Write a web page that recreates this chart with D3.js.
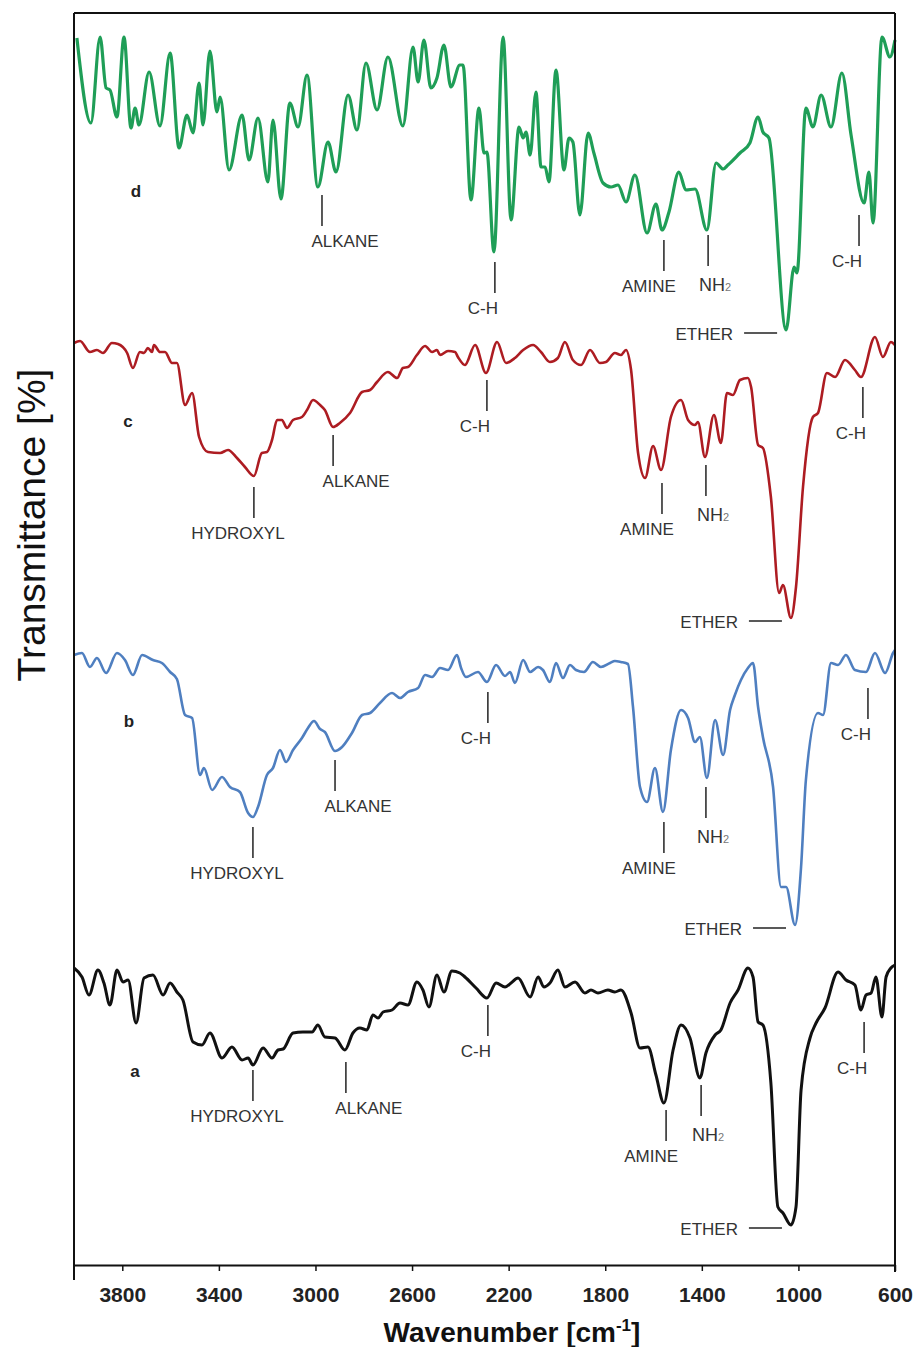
<!DOCTYPE html>
<html>
<head>
<meta charset="utf-8">
<script src="https://cdn.jsdelivr.net/npm/d3@7"></script>
<style>
  body { margin: 0; background: #fff; }
  svg { display: block; font-family: Arial, "Liberation Sans", sans-serif; }
</style>
</head>
<body>
<svg id="chart" width="918" height="1347"></svg>
<script>
// FTIR spectra, stacked (a, b, c, d)
// each point: [wavenumber cm-1, transmittance (offset, a.u.)]

const xTicks = [3800, 3400, 3000, 2600, 2200, 1800, 1400, 1000, 600];

const specD = [
  [3988,122.7],[3930,114.2],[3892,122.8],[3867,117.7],[3851,117.5],[3822,114.8],[3793,122.8],
  [3764,113.7],[3747,115.7],[3731,114.0],[3689,119.3],[3644,113.9],[3602,121.2],[3565,111.7],
  [3532,115.0],[3507,113.2],[3482,118.2],[3466,114.0],[3437,121.4],[3408,115.3],[3395,116.8],
  [3358,109.5],[3304,115.0],[3275,110.5],[3238,114.7],[3197,108.3],[3176,114.5],[3143,106.6],
  [3106,116.2],[3072,113.8],[3035,119.0],[2990,107.8],[2948,112.3],[2915,109.3],[2865,117.0],
  [2828,113.5],[2791,120.2],[2745,115.5],[2700,120.8],[2638,113.9],[2596,121.8],[2575,118.3],
  [2551,122.5],[2522,117.7],[2497,118.7],[2468,122.0],[2439,117.8],[2402,120.0],[2389,120.0],
  [2356,106.5],[2323,115.7],[2302,111.2],[2290,111.3],[2261,101.3],[2223,122.8],[2190,104.5],
  [2157,113.8],[2140,112.7],[2128,113.3],[2111,111.0],[2087,117.3],[2066,109.8],[2049,109.8],
  [2033,108.3],[2004,119.5],[1971,109.5],[1950,112.7],[1934,112.3],[1905,105.0],[1871,113.2],
  [1847,111.2],[1809,108.2],[1776,107.8],[1747,108.0],[1714,106.3],[1677,109.0],[1627,103.2],
  [1590,106.1],[1565,103.5],[1536,105.3],[1495,109.3],[1466,107.5],[1428,107.6],[1379,103.5],
  [1341,110.2],[1312,109.6],[1292,110.0],[1242,111.2],[1201,112.2],[1167,114.8],[1147,113.3],
  [1122,112.7],[1051,93.5],[1018,99.8],[1006,99.2],[969,115.7],[940,113.8],[906,117.0],
  [865,113.8],[820,119.2],[782,113.0],[728,106.2],[708,109.3],[691,104.2],[654,122.8],
  [621,120.8],[600,122.5]
];

const specC = [
  [4000,92.2],[3975,92.4],[3934,91.3],[3905,91.5],[3880,91.2],[3843,92.2],[3818,92.1],
  [3780,91.2],[3756,89.7],[3727,91.3],[3710,91.2],[3694,91.7],[3677,91.3],[3669,92.0],
  [3644,91.3],[3623,91.3],[3594,90.2],[3574,90.2],[3540,86.0],[3511,87.2],[3482,82.8],
  [3445,81.3],[3395,81.2],[3362,81.5],[3325,80.7],[3292,79.8],[3255,78.9],[3222,81.2],
  [3201,81.3],[3180,82.5],[3159,84.5],[3139,84.5],[3118,83.7],[3093,84.5],[3056,84.8],
  [3035,85.5],[3010,86.5],[2981,86.0],[2961,85.5],[2927,83.8],[2899,84.2],[2857,85.2],
  [2807,87.3],[2774,87.5],[2745,88.3],[2700,89.3],[2662,88.7],[2638,89.7],[2617,89.8],
  [2580,91.0],[2546,91.9],[2517,91.3],[2497,91.5],[2484,91.0],[2451,91.4],[2422,91.3],
  [2410,90.8],[2381,90.0],[2339,92.0],[2294,89.2],[2248,92.3],[2211,90.2],[2174,90.7],
  [2140,91.5],[2099,92.0],[2066,91.3],[2029,90.3],[1996,90.7],[1967,92.3],[1934,90.5],
  [1900,90.0],[1863,91.5],[1822,90.2],[1797,90.3],[1760,91.2],[1735,91.0],[1714,91.5],
  [1693,89.5],[1664,81.2],[1635,78.7],[1602,81.9],[1569,79.5],[1528,84.8],[1486,86.5],
  [1457,84.5],[1428,84.0],[1416,84.3],[1387,80.8],[1350,85.0],[1321,82.2],[1296,87.2],
  [1271,87.0],[1242,88.5],[1209,88.7],[1196,87.8],[1167,82.0],[1147,81.7],[1114,76.8],
  [1080,67.2],[1064,68.0],[1031,64.7],[1010,67.8],[981,77.8],[940,84.8],[919,85.2],
  [882,89.2],[848,88.8],[807,90.5],[766,89.5],[741,88.8],[683,92.8],[650,90.8],
  [617,92.3],[600,92.0]
];

const specB = [
  [4000,61.0],[3967,61.2],[3934,59.8],[3905,60.7],[3867,59.2],[3822,61.2],[3789,60.5],
  [3756,59.0],[3718,61.0],[3673,60.5],[3636,60.2],[3602,59.3],[3574,58.6],[3540,55.0],
  [3511,54.7],[3478,49.0],[3462,49.7],[3428,47.5],[3387,48.8],[3354,47.8],[3313,47.3],
  [3279,45.2],[3259,44.8],[3238,45.8],[3201,49.0],[3176,49.7],[3147,51.5],[3122,50.3],
  [3093,51.5],[3056,52.7],[3031,53.7],[3006,54.4],[2981,53.6],[2961,53.3],[2919,51.4],
  [2890,51.8],[2849,53.2],[2807,55.0],[2774,55.2],[2733,56.2],[2683,57.2],[2650,56.7],
  [2617,57.3],[2575,57.7],[2546,59.0],[2517,58.8],[2484,59.7],[2451,59.5],[2414,61.0],
  [2397,59.7],[2377,58.8],[2327,59.3],[2290,58.3],[2252,60.0],[2215,58.9],[2194,59.3],
  [2174,58.2],[2140,60.5],[2111,59.3],[2078,59.8],[2058,59.5],[2029,58.3],[2004,60.2],
  [1975,58.7],[1946,60.0],[1921,59.5],[1888,59.3],[1851,60.3],[1818,59.8],[1780,60.2],
  [1760,60.4],[1735,60.3],[1706,60.1],[1685,55.8],[1656,47.8],[1627,46.3],[1594,49.7],
  [1561,45.3],[1528,51.5],[1486,55.5],[1457,54.7],[1428,52.3],[1408,52.8],[1379,48.7],
  [1345,54.5],[1312,51.0],[1283,55.5],[1263,57.0],[1238,58.5],[1209,59.7],[1188,60.2],
  [1167,55.8],[1147,52.8],[1105,47.8],[1072,37.8],[1051,37.8],[1014,34.0],[989,39.8],
  [969,48.5],[919,55.2],[898,55.0],[865,60.2],[836,60.0],[803,61.0],[766,59.5],
  [720,59.3],[683,61.2],[641,59.2],[608,61.2],[600,61.5]
];

const specA = [
  [4000,29.7],[3967,28.8],[3938,27.0],[3901,29.5],[3876,28.2],[3851,26.0],[3822,29.5],
  [3797,28.3],[3776,28.5],[3743,24.2],[3710,28.7],[3673,29.0],[3631,27.0],[3602,28.2],
  [3574,27.3],[3549,26.5],[3507,22.3],[3470,22.0],[3437,23.2],[3387,20.7],[3346,21.8],
  [3304,20.5],[3279,20.7],[3259,20.0],[3217,21.7],[3180,20.7],[3155,21.5],[3134,21.6],
  [3093,23.2],[3052,23.3],[3014,23.3],[2990,24.0],[2961,22.8],[2919,22.7],[2878,21.5],
  [2845,23.2],[2816,23.7],[2787,23.5],[2762,25.0],[2741,24.7],[2720,25.3],[2683,25.5],
  [2650,26.2],[2617,26.0],[2580,28.3],[2555,27.5],[2530,25.8],[2497,29.0],[2468,27.3],
  [2435,29.4],[2402,29.2],[2381,28.8],[2335,27.7],[2290,26.7],[2252,28.2],[2215,27.8],
  [2190,28.2],[2161,28.7],[2111,26.8],[2078,28.8],[2054,27.8],[2029,28.2],[1996,29.5],
  [1967,27.8],[1925,28.3],[1884,27.2],[1859,27.5],[1830,27.2],[1789,27.5],[1760,27.3],
  [1735,27.5],[1693,25.2],[1656,21.7],[1623,21.8],[1590,19.0],[1557,16.2],[1519,21.5],
  [1486,24.0],[1449,22.7],[1408,18.7],[1383,21.2],[1345,23.0],[1321,23.5],[1283,26.2],
  [1250,27.5],[1209,29.7],[1188,28.8],[1167,24.3],[1147,24.0],[1114,18.2],[1085,5.8],
  [1064,5.2],[1031,4.0],[1010,5.8],[989,17.5],[952,22.7],[927,24.2],[890,25.7],
  [836,29.3],[803,28.5],[766,28.0],[741,25.5],[720,27.0],[699,27.2],[679,28.8],
  [654,24.8],[637,28.8],[617,29.7],[600,30.0]
];

// assigned bands: [label, wavenumber, transmittance at the band]
const peaksD = [["ALKANE",2973,107.8],["C-H",2257,101.1],["AMINE",1557,103.3],["NH2",1374,103.8],["ETHER",1051,93.5],["C-H",749,105.8]];
const peaksC = [["HYDROXYL",3255,78.6],["ALKANE",2927,83.8],["C-H",2290,89.3],["AMINE",1565,79.0],["NH2",1383,80.8],["ETHER",1031,64.7],["C-H",733,88.6]];
const peaksB = [["HYDROXYL",3259,44.6],["ALKANE",2919,51.3],["C-H",2286,58.1],["AMINE",1557,45.1],["NH2",1383,48.6],["ETHER",1014,34.0],["C-H",712,58.5]];
const peaksA = [["HYDROXYL",3259,20.3],["ALKANE",2874,21.1],["C-H",2286,26.8],["AMINE",1548,16.3],["NH2",1403,18.8],["ETHER",1031,4.0],["C-H",728,25.1]];

// sample tags: [name, wavenumber, transmittance]
const tags = [["d",3743,106.8],["c",3776,83.8],["b",3772,53.8],["a",3747,18.8]];

const width = 918, height = 1347;
const margin = {top: 13, right: 23, bottom: 82, left: 74};

const svg = d3.select("#chart");

const x = d3.scaleLinear()
  .domain([4000, 600])
  .range([margin.left, width - margin.right]);

const y = d3.scaleLinear()
  .domain([0, 125.2])
  .range([height - margin.bottom, margin.top]);

// spectra
const series = [
  {data: specD, peaks: peaksD, color: "#1f9e57", w: 3.2},
  {data: specC, peaks: peaksC, color: "#ad1c22", w: 2.6},
  {data: specB, peaks: peaksB, color: "#4f7fc0", w: 2.6},
  {data: specA, peaks: peaksA, color: "#111111", w: 3}
];

const line = d3.line()
  .x(d => x(d[0]))
  .y(d => y(d[1]))
  .curve(d3.curveMonotoneX);

svg.selectAll("path.spec")
  .data(series)
  .enter()
  .append("path")
  .attr("class", "spec")
  .attr("d", d => line(d.data))
  .attr("fill", "none")
  .attr("stroke", d => d.color)
  .attr("stroke-width", d => d.w)
  .attr("stroke-linejoin", "round");

// band labels
const shift = {"HYDROXYL": -16, "ALKANE": 23, "AMINE": -15, "C-H": -12, "NH2": -9};
const ann = svg.append("g").attr("fill", "#333").attr("font-size", 17);

series.forEach(s => {
  s.peaks.forEach(p => {
    const px = x(p[1]), py = y(p[2]);
    if (p[0] === "ETHER") {
      ann.append("line")
        .attr("x1", px - 42).attr("x2", px - 9)
        .attr("y1", py + 3).attr("y2", py + 3)
        .attr("stroke", "#222").attr("stroke-width", 1.5);
      ann.append("text")
        .attr("x", px - 53).attr("y", py + 10)
        .attr("text-anchor", "end")
        .text("ETHER");
      return;
    }
    const y1 = py + 8, y2 = y1 + 31;
    ann.append("line")
      .attr("x1", px).attr("x2", px)
      .attr("y1", y1).attr("y2", y2)
      .attr("stroke", "#222").attr("stroke-width", 1.5);
    if (p[0] === "NH2") {
      const t = ann.append("text")
        .attr("x", px + shift.NH2).attr("y", y2 + 25)
        .attr("font-size", 18);
      t.append("tspan").text("NH");
      t.append("tspan").attr("font-size", 11).attr("fill", "#777").text("2");
    } else {
      ann.append("text")
        .attr("x", px + shift[p[0]]).attr("y", y2 + 21)
        .attr("text-anchor", "middle")
        .text(p[0]);
    }
  });
});

svg.append("g")
  .selectAll("text")
  .data(tags)
  .enter()
  .append("text")
  .attr("x", d => x(d[1]))
  .attr("y", d => y(d[2]))
  .attr("text-anchor", "middle")
  .attr("font-size", 17)
  .attr("font-weight", "bold")
  .attr("fill", "#222")
  .text(d => d[0]);

// frame + axis
const x0 = margin.left, x1 = width - margin.right;
const yTop = margin.top, yBot = height - margin.bottom;
const frame = svg.append("g").attr("stroke", "#111").attr("stroke-width", 2);
frame.append("line").attr("x1", x0).attr("x2", x0).attr("y1", yTop).attr("y2", yBot + 15);
frame.append("line").attr("x1", x0).attr("x2", x1).attr("y1", yTop).attr("y2", yTop);
frame.append("line").attr("x1", x1).attr("x2", x1).attr("y1", yTop).attr("y2", yBot + 7);

const xAxis = svg.append("g")
  .attr("transform", `translate(0,${yBot})`)
  .call(d3.axisBottom(x).tickValues(xTicks).tickSize(6).tickSizeOuter(0).tickFormat(d3.format("d")));

xAxis.select(".domain").attr("stroke", "#111").attr("stroke-width", 2);
xAxis.selectAll(".tick line").attr("stroke", "#111").attr("stroke-width", 1.5);
xAxis.selectAll(".tick text")
  .attr("y", 37).attr("dy", 0)
  .attr("font-size", 21)
  .attr("font-weight", "bold")
  .attr("font-family", "Arial, 'Liberation Sans', sans-serif")
  .attr("fill", "#222");

// titles
const xt = svg.append("text")
  .attr("x", 512).attr("y", 1342)
  .attr("text-anchor", "middle")
  .attr("font-size", 28)
  .attr("font-weight", "bold")
  .attr("fill", "#111");
xt.append("tspan").text("Wavenumber [cm");
xt.append("tspan").attr("font-size", 17).attr("dy", -11).text("-1");
xt.append("tspan").attr("dy", 11).text("]");

svg.append("text")
  .attr("transform", "translate(45,525) rotate(-90)")
  .attr("text-anchor", "middle")
  .attr("font-size", 39)
  .attr("fill", "#111")
  .text("Transmittance [%]");
</script>
</body>
</html>
